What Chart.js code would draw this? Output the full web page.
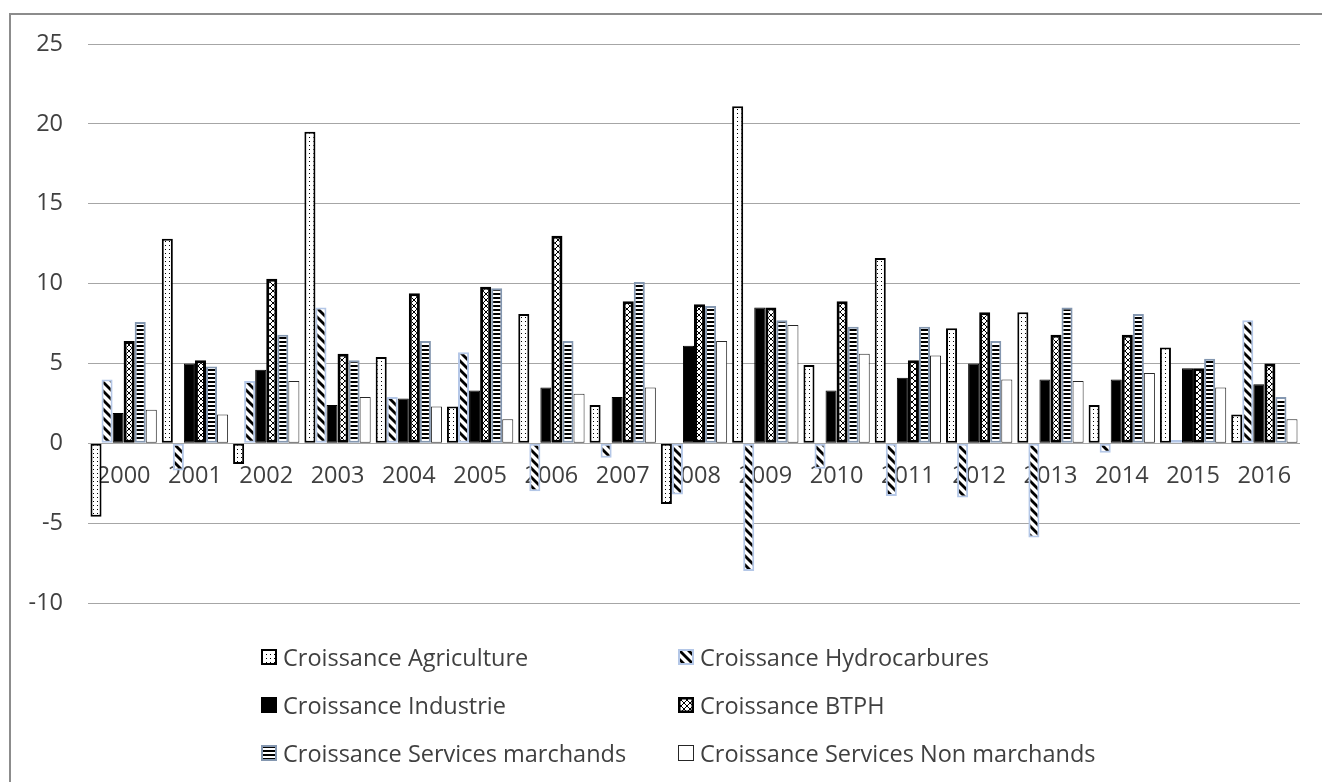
<!DOCTYPE html>
<html>
<head>
<meta charset="utf-8">
<script src="https://cdn.jsdelivr.net/npm/chart.js@4.4.1/dist/chart.umd.min.js"></script>
<style>
  html, body { margin: 0; padding: 0; background: #fff; }
  #wrap { position: relative; width: 1322px; height: 782px; overflow: hidden; }
  #frame { position: absolute; left: 9px; top: 13px; width: 1400px; height: 900px; border: 2px solid #8c8c8c; }
  #chart { position: absolute; left: 0; top: 0; }
  .leg { position: absolute; display: flex; align-items: center; height: 30px; font: 23.5px "Open Sans", sans-serif; color: #404040; white-space: nowrap; }
  .leg canvas { margin-right: 6px; }
</style>
</head>
<body>
<div id="wrap">
  <div id="frame"></div>
  <canvas id="chart" width="1322" height="782"></canvas>
</div>
<script>
// data
const years = ["2000", "2001", "2002", "2003", "2004", "2005", "2006", "2007", "2008",
  "2009", "2010", "2011", "2012", "2013", "2014", "2015", "2016"];
const agriculture = [-4.6, 12.8, -1.3, 19.5, 5.4, 2.3, 8.1, 2.4, -3.8, 21.1, 4.9, 11.6, 7.2, 8.2, 2.4, 6.0, 1.8];
const hydrocarbures = [4.0, -1.7, 3.9, 8.5, 2.9, 5.7, -3.0, -0.9, -3.2, -8.0, -1.6, -3.3, -3.4, -5.9, -0.6, 0.2, 7.7];
const industrie = [1.9, 5.0, 4.6, 2.4, 2.8, 3.3, 3.5, 2.9, 6.1, 8.5, 3.3, 4.1, 5.0, 4.0, 4.0, 4.7, 3.7];
const btph = [6.4, 5.2, 10.3, 5.6, 9.4, 9.8, 13.0, 8.9, 8.7, 8.5, 8.9, 5.2, 8.2, 6.8, 6.8, 4.7, 5.0];
const servMarchands = [7.6, 4.8, 6.8, 5.2, 6.4, 9.7, 6.4, 10.1, 8.6, 7.7, 7.3, 7.3, 6.4, 8.5, 8.1, 5.3, 2.9];
const servNonMarchands = [2.1, 1.8, 3.9, 2.9, 2.3, 1.5, 3.1, 3.5, 6.4, 7.4, 5.6, 5.5, 4.0, 3.9, 4.4, 3.5, 1.5];
const yTicks = [-10, -5, 0, 5, 10, 15, 20, 25];

const TEXT = "#404040";
const FONT = "'Open Sans', sans-serif";

// small canvas tiles used as fill patterns
function tile(w, h, draw) {
  const c = document.createElement("canvas");
  c.width = w; c.height = h;
  const g = c.getContext("2d");
  g.fillStyle = "#fff";
  g.fillRect(0, 0, w, h);
  g.fillStyle = "#000";
  g.strokeStyle = "#000";
  draw(g, w, h);
  return c;
}
const ctxTmp = document.createElement("canvas").getContext("2d");
const pat = c => ctxTmp.createPattern(c, "repeat");

const dots = tile(4, 4, g => { g.fillRect(1, 1, 1, 1); });
const diag = tile(9, 9, (g, w) => {
  g.lineWidth = 2.8;
  for (let k = -w; k <= w; k += w) {
    g.beginPath(); g.moveTo(k - 2, -2); g.lineTo(k + w + 2, w + 2); g.stroke();
  }
});
const cross = tile(6, 6, g => {
  g.lineWidth = 1;
  g.beginPath(); g.moveTo(0, 0); g.lineTo(6, 6); g.moveTo(6, 0); g.lineTo(0, 6); g.stroke();
});
const hlines = tile(4, 4, g => { g.fillRect(0, 1, 4, 2); });

const series = [
  { label: "Croissance Agriculture", data: agriculture, fill: pat(dots), tileC: dots, border: "#000", bw: 2 },
  { label: "Croissance Hydrocarbures", data: hydrocarbures, fill: pat(diag), tileC: diag, border: "#b4c7e7", bw: 2 },
  { label: "Croissance Industrie", data: industrie, fill: "#000", border: "#000", bw: 1 },
  { label: "Croissance BTPH", data: btph, fill: pat(cross), tileC: cross, border: "#000", bw: 3 },
  { label: "Croissance Services marchands", data: servMarchands, fill: pat(hlines), tileC: hlines, border: "#8497b0", bw: 2 },
  { label: "Croissance Services Non marchands", data: servNonMarchands, fill: "#fff", border: "#262626", bw: 1 }
];

new Chart(document.getElementById("chart"), {
  type: "bar",
  data: {
    labels: years,
    datasets: series.map(s => ({
      label: s.label,
      data: s.data,
      backgroundColor: s.fill,
      borderColor: s.border,
      borderWidth: s.bw,
      borderSkipped: false,
      categoryPercentage: 0.93,
      barPercentage: 1.0
    }))
  },
  options: {
    responsive: false,
    animation: false,
    layout: { padding: { top: 44, right: 22, bottom: 179, left: 0 } },
    plugins: { legend: { display: false }, tooltip: { enabled: false } },
    scales: {
      x: {
        position: { y: 0 },
        grid: { display: false },
        border: { display: false },
        ticks: { color: TEXT, font: { family: FONT, size: 23.5 }, padding: 11, maxRotation: 0, autoSkip: false }
      },
      y: {
        min: yTicks[0],
        max: yTicks[yTicks.length - 1],
        afterFit: s => { s.width = 88; },
        afterBuildTicks: s => { s.ticks = yTicks.map(v => ({ value: v })); },
        grid: { color: "#a6a6a6", lineWidth: 1, drawTicks: false },
        border: { display: false },
        ticks: { color: TEXT, font: { family: FONT, size: 23.5 }, padding: 25 }
      }
    }
  }
});

// legend, two columns under the plot
const legCols = [261, 678];
const legRows = [657, 705, 753];
series.forEach((s, i) => {
  const item = document.createElement("div");
  item.className = "leg";
  const sw = document.createElement("canvas");
  sw.width = 16; sw.height = 16;
  const g = sw.getContext("2d");
  g.fillStyle = s.tileC ? g.createPattern(s.tileC, "repeat") : s.fill;
  g.fillRect(0, 0, 16, 16);
  g.strokeStyle = s.border;
  g.lineWidth = Math.min(s.bw, 2.5);
  g.strokeRect(g.lineWidth / 2, g.lineWidth / 2, 16 - g.lineWidth, 16 - g.lineWidth);
  item.appendChild(sw);
  item.appendChild(document.createTextNode(s.label));
  item.style.left = legCols[i % 2] + "px";
  item.style.top = (legRows[Math.floor(i / 2)] - 15) + "px";
  document.getElementById("wrap").appendChild(item);
});
</script>
</body>
</html>
